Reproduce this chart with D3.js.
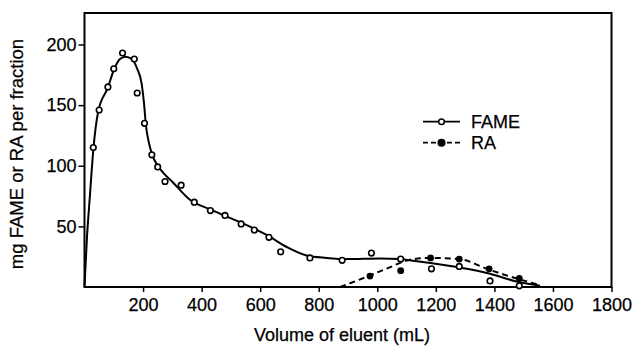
<!DOCTYPE html>
<html>
<head>
<meta charset="utf-8">
<script src="https://cdn.jsdelivr.net/npm/d3@7"></script>
<style>
  body { margin: 0; background: #fff; }
  svg text { font-family: "Liberation Sans", Arial, sans-serif; fill: #000; stroke: #000; stroke-width: 0.25px; }
</style>
</head>
<body>
<svg id="svg1"></svg>
<script>
// measured fractions
var fameX = [30, 50, 80, 100, 130, 170, 180, 205, 230, 250, 275, 330, 375, 430, 480, 535, 580, 630, 670, 770, 880, 980, 1080, 1185, 1280, 1385, 1485];
var fameY = [115, 146, 165, 180, 193, 188, 160, 135, 109, 99, 87, 84, 70, 63, 59, 52, 47, 41, 29, 24, 22, 28, 23, 15, 17, 5, 1];
var raX = [975, 1080, 1182, 1280, 1382, 1485];
var raY = [9, 13.5, 24, 23, 15, 7];

// hand drawn curves
var fameCurveX = [0, 8, 19, 30, 47, 79, 102, 121, 140, 161, 180, 195, 203, 210, 220, 230, 250, 270, 303, 360, 429, 486, 554, 622, 691, 759, 827, 896, 1009, 1080, 1112, 1283, 1385, 1476, 1556];
var fameCurveY = [0, 39, 77, 113, 145, 164, 180, 188, 190, 188, 180, 168, 152, 133, 119, 110, 100, 94, 86, 72, 64, 58, 51, 43, 33, 26, 24, 23, 23.5, 23, 22, 16, 11, 4.5, 1];
var raCurveX = [873, 975, 1040, 1112, 1185, 1280, 1385, 1476, 1556];
var raCurveY = [0, 9.5, 16, 22.5, 24, 23, 14, 7, 1.5];

var xTicks = [200, 400, 600, 800, 1000, 1200, 1400, 1600, 1800];
var yTicks = [50, 100, 150, 200];
var seriesNames = ["FAME", "RA"];

var svgWidth = 632;
var svgHeight = 346;
var svg = d3.select('#svg1')
    .attr("width", svgWidth)
    .attr("height", svgHeight);

var x = d3.scaleLinear().domain([0, 1800]).range([84.5, 611.5]);
var y = d3.scaleLinear().domain([0, 226]).range([287, 13]);

function zip(xs, ys) {
    return xs.map(function (v, i) { return [v, ys[i]]; });
}

// frame
svg.append("rect")
    .attr("x", x(0)).attr("y", y(226))
    .attr("width", x(1800) - x(0)).attr("height", y(0) - y(226))
    .attr("fill", "none").attr("stroke", "#000").attr("stroke-width", 2);

var xAxis = svg.append("g")
    .attr("transform", "translate(0," + y(0) + ")")
    .call(d3.axisBottom(x).tickValues(xTicks).tickFormat(d3.format("d")).tickSize(5).tickPadding(6));
var yAxis = svg.append("g")
    .attr("transform", "translate(" + x(0) + ",0)")
    .call(d3.axisLeft(y).tickValues(yTicks).tickFormat(d3.format("d")).tickSize(6).tickPadding(2));

[xAxis, yAxis].forEach(function (g) {
    g.select(".domain").remove();
    g.selectAll("line").attr("stroke", "#000").attr("stroke-width", 1.5);
    g.selectAll("text").style("font-size", "18px").attr("fill", "#000");
});

svg.append("text")
    .attr("x", 342).attr("y", 341)
    .attr("text-anchor", "middle")
    .style("font-size", "18px")
    .text("Volume of eluent (mL)");

svg.append("text")
    .attr("transform", "translate(23,154) rotate(-90)")
    .attr("text-anchor", "middle")
    .style("font-size", "18.5px")
    .text("mg FAME or RA per fraction");

var line = d3.line()
    .x(function (d) { return x(d[0]); })
    .y(function (d) { return y(d[1]); })
    .curve(d3.curveMonotoneX);

svg.append("path")
    .datum(zip(fameCurveX, fameCurveY))
    .attr("d", line)
    .attr("fill", "none").attr("stroke", "#000").attr("stroke-width", 2);

svg.append("path")
    .datum(zip(raCurveX, raCurveY))
    .attr("d", line)
    .attr("fill", "none").attr("stroke", "#000").attr("stroke-width", 2)
    .attr("stroke-dasharray", "6,4");

svg.selectAll("circle.fame")
    .data(zip(fameX, fameY))
    .enter()
    .append("circle")
    .attr("class", "fame")
    .attr("cx", function (d) { return x(d[0]); })
    .attr("cy", function (d) { return y(d[1]); })
    .attr("r", 2.8)
    .attr("fill", "#fff").attr("stroke", "#000").attr("stroke-width", 1.6);

svg.selectAll("circle.ra")
    .data(zip(raX, raY))
    .enter()
    .append("circle")
    .attr("class", "ra")
    .attr("cx", function (d) { return x(d[0]); })
    .attr("cy", function (d) { return y(d[1]); })
    .attr("r", 3.4)
    .attr("fill", "#000");

// legend
var legend = svg.selectAll("g.legend")
    .data(seriesNames)
    .enter()
    .append("g")
    .attr("class", "legend")
    .attr("transform", function (d, i) { return "translate(423," + (121.7 + i * 21) + ")"; });

legend.append("line")
    .attr("x1", 0).attr("x2", 37).attr("y1", 0).attr("y2", 0)
    .attr("stroke", "#000").attr("stroke-width", 1.8)
    .attr("stroke-dasharray", function (d, i) { return i ? "5,3" : null; });

legend.append("circle")
    .attr("cx", 18.5).attr("cy", 0)
    .attr("r", function (d, i) { return i ? 3.3 : 2.8; })
    .attr("fill", function (d, i) { return i ? "#000" : "#fff"; })
    .attr("stroke", "#000").attr("stroke-width", 1.5);

legend.append("text")
    .attr("x", 48).attr("y", 6.5)
    .style("font-size", "18px")
    .text(function (d) { return d; });
</script>
</body>
</html>
